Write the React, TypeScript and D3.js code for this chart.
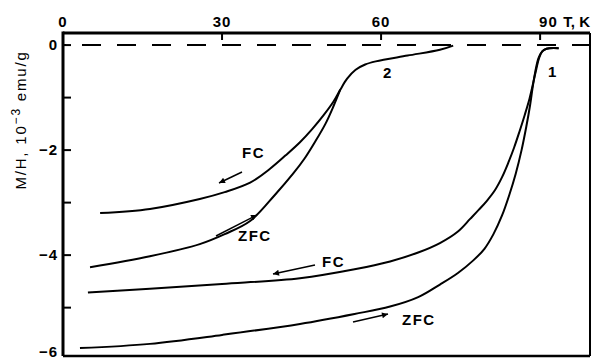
import React, { useEffect, useRef } from 'react';
import * as d3 from 'd3';

// temperature (K) and M/H (10^-3 emu/g)
const s1FcT = [4.7, 16.4, 30, 44.7, 55, 61.7, 67, 71.1, 74.5, 76.8, 78.5, 80, 81.5, 82.8, 84, 85.1, 86.1, 87.1, 88, 88.7, 89.3, 89.8, 90.4, 91.2, 93.5];
const s1FcM = [-4.71, -4.64, -4.55, -4.44, -4.27, -4.12, -3.95, -3.77, -3.55, -3.31, -3.13, -2.96, -2.76, -2.52, -2.24, -1.95, -1.65, -1.33, -1.02, -0.72, -0.45, -0.25, -0.12, -0.07, -0.06];

const s1ZfcT = [3.2, 16.4, 30, 44.7, 55, 61.7, 67, 71.1, 74.5, 77.4, 79.5, 81.2, 82.8, 84.2, 85.4, 86.5, 87.4, 88.1, 88.6, 89.1, 89.7, 90.4, 91.2, 93.5];
const s1ZfcM = [-5.77, -5.69, -5.52, -5.31, -5.12, -4.98, -4.8, -4.56, -4.34, -4.1, -3.88, -3.6, -3.25, -2.85, -2.45, -2.0, -1.55, -1.15, -0.8, -0.5, -0.25, -0.12, -0.07, -0.06];

const s2FcT = [7, 16.4, 25.8, 30.5, 35.3, 39, 42, 44.7, 47, 49.2, 51, 52.3, 53.6, 55.2, 57, 59, 65, 71.1, 73.6];
const s2FcM = [-3.2, -3.12, -2.93, -2.8, -2.62, -2.36, -2.1, -1.85, -1.6, -1.33, -1.08, -0.85, -0.64, -0.47, -0.37, -0.31, -0.2, -0.09, -0.01];

const s2ZfcT = [5.1, 16.4, 25.8, 30.5, 35.3, 40, 43.4, 45.5, 47.5, 49.5, 51, 52.3];
const s2ZfcM = [-4.23, -4.02, -3.79, -3.6, -3.35, -2.85, -2.45, -2.17, -1.85, -1.5, -1.17, -0.85];

const xTicks = [0, 30, 60, 90];
const xTickLabels = ['0', '30', '60', '90'];
const xUnit = 'T, K';
const yMajor = [0, -2, -4, -6];
const yMajorLabels = ['0', '\u22122', '\u22124', '\u22126'];
const yMinor = [-1, -3, -5];

const font = "'Liberation Sans', Arial, sans-serif";

const App = () => {
    const svgRef = useRef<SVGSVGElement>(null);

    useEffect(() => {
        document.body.style.margin = '0';
        document.documentElement.style.overflow = 'hidden';

        const width = 592;
        const height = 359;
        const left = 63, right = 590, top = 33, bottom = 356;

        const x = d3.scaleLinear().domain([0, 99.6]).range([63, 591]);
        const y = d3.scaleLinear().domain([-5.94, 0.23]).range([357, 33]);

        const svg = d3.select(svgRef.current);
        svg.selectAll('*').remove();
        svg.attr('width', width).attr('height', height);

        svg.append('rect').attr('width', width).attr('height', height).attr('fill', '#fff');

        const defs = svg.append('defs');
        defs.append('marker')
            .attr('id', 'head')
            .attr('viewBox', '0 0 10 10')
            .attr('refX', 10).attr('refY', 5)
            .attr('markerWidth', 13).attr('markerHeight', 6)
            .attr('markerUnits', 'userSpaceOnUse')
            .attr('orient', 'auto')
            .append('path').attr('d', 'M0,0 L10,5 L0,10 z').attr('fill', '#000');

        // frame
        svg.append('line').attr('x1', left).attr('x2', right).attr('y1', top).attr('y2', top)
            .attr('stroke', '#000').attr('stroke-width', 3);
        svg.append('line').attr('x1', left).attr('x2', left).attr('y1', top - 1.5).attr('y2', bottom)
            .attr('stroke', '#000').attr('stroke-width', 3);
        svg.append('line').attr('x1', right).attr('x2', right).attr('y1', top).attr('y2', bottom)
            .attr('stroke', '#000').attr('stroke-width', 2);
        svg.append('line').attr('x1', left).attr('x2', right).attr('y1', bottom).attr('y2', bottom)
            .attr('stroke', '#000').attr('stroke-width', 2.5);

        // x ticks on top, pointing in
        svg.selectAll('.xt').data(xTicks.slice(1)).enter().append('line')
            .attr('x1', d => x(d)).attr('x2', d => x(d)).attr('y1', top).attr('y2', top + 7)
            .attr('stroke', '#000').attr('stroke-width', 2);
        svg.selectAll('.xl').data(xTicks).enter().append('text')
            .attr('x', (d, i) => i === xTicks.length - 1 ? x(d) - 1 : x(d))
            .attr('y', 27)
            .attr('text-anchor', (d, i) => i === xTicks.length - 1 ? 'start' : 'middle')
            .attr('font-family', font).attr('font-size', 15).attr('letter-spacing', 1)
            .attr('font-weight', 'bold')
            .text((d, i) => xTickLabels[i]);
        svg.append('text')
            .attr('x', 590).attr('y', 27)
            .attr('text-anchor', 'end')
            .attr('font-family', font).attr('font-size', 15)
            .attr('font-weight', 'bold')
            .text(xUnit);

        // y ticks on the left, pointing in
        svg.selectAll('.ymaj').data(yMajor).enter().append('line')
            .attr('x1', left).attr('x2', left + 8).attr('y1', d => y(d)).attr('y2', d => y(d))
            .attr('stroke', '#000').attr('stroke-width', 2);
        svg.selectAll('.ymin').data(yMinor).enter().append('line')
            .attr('x1', left).attr('x2', left + 8).attr('y1', d => y(d)).attr('y2', d => y(d))
            .attr('stroke', '#000').attr('stroke-width', 2);
        svg.selectAll('.yl').data(yMajor).enter().append('text')
            .attr('x', left - 5).attr('y', d => Math.min(y(d) + 5, 357))
            .attr('text-anchor', 'end')
            .attr('font-family', font).attr('font-size', 15).attr('letter-spacing', 1)
            .attr('font-weight', 'bold')
            .text((d, i) => yMajorLabels[i]);

        // axis title
        const title = svg.append('text')
            .attr('transform', 'translate(26,120) rotate(-90)')
            .attr('text-anchor', 'middle')
            .attr('font-family', font).attr('font-size', 15).attr('letter-spacing', 1.8);
        title.append('tspan').text('M/H, 10');
        title.append('tspan').attr('dy', -6).attr('font-size', 12).text('\u22123');
        title.append('tspan').attr('dy', 6).text(' emu/g');

        // dashed zero line
        svg.append('line').attr('x1', left).attr('x2', right).attr('y1', y(0)).attr('y2', y(0))
            .attr('stroke', '#000').attr('stroke-width', 2)
            .attr('stroke-dasharray', '19,16').attr('stroke-dashoffset', 16);

        const line = d3.line()
            .x(d => d[0])
            .y(d => d[1])
            .curve(d3.curveCatmullRom.alpha(0.5));

        const series = [
            [s1FcT, s1FcM],
            [s1ZfcT, s1ZfcM],
            [s2FcT, s2FcM],
            [s2ZfcT, s2ZfcM],
        ];
        series.forEach(([ts, ms]) => {
            const pts = ts.map((t, i) => [x(t), y(ms[i])] as [number, number]);
            svg.append('path')
                .attr('d', line(pts))
                .attr('fill', 'none')
                .attr('stroke', '#000')
                .attr('stroke-width', 2);
        });

        // arrows and labels
        const arrows = [
            [242, 172, 219, 183],
            [216, 236, 257, 215],
            [315, 265, 273, 274],
            [353, 322, 388, 314],
        ];
        svg.selectAll('.arr').data(arrows).enter().append('line')
            .attr('x1', d => d[0]).attr('y1', d => d[1]).attr('x2', d => d[2]).attr('y2', d => d[3])
            .attr('stroke', '#000').attr('stroke-width', 1.5)
            .attr('marker-end', 'url(#head)');

        const labels = [
            ['FC', 242, 158],
            ['ZFC', 238, 241],
            ['FC', 322, 267],
            ['ZFC', 402, 325],
            ['1', 548, 77],
            ['2', 383, 78],
        ];
        svg.selectAll('.lab').data(labels).enter().append('text')
            .attr('x', d => d[1] as number).attr('y', d => d[2] as number)
            .attr('font-family', font).attr('font-size', 15).attr('letter-spacing', 1.5)
            .attr('font-weight', 'bold')
            .text(d => d[0] as string);
    }, []);

    return (
        <svg ref={svgRef} style={{ display: 'block' }}></svg>
    );
};

export default App;
